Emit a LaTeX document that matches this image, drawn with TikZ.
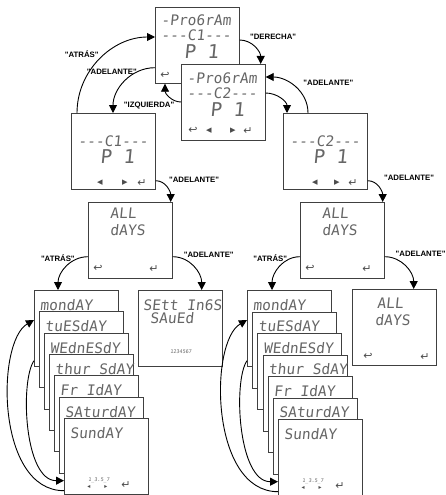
\documentclass[tikz,border=0pt]{standalone}
\usepackage{fontspec}
\usepackage{tikz}
\usetikzlibrary{arrows.meta}

\newfontfamily\lcdfont[FakeSlant=0.1]{DejaVu Sans Mono}
\newfontfamily\symfont{DejaVu Sans}
\newfontfamily\lblfont{Liberation Sans}
\newcommand{\kback}{{\symfont ↩}}
\newcommand{\kenter}{{\symfont ↵}}
\newcommand{\kleft}{{\symfont ◂}}
\newcommand{\kright}{{\symfont ▸}}

\tikzset{
  screen/.style={draw=black!75,line width=0.7pt,fill=white,minimum width=84pt,minimum height=76pt,inner sep=0pt,anchor=north west},
  lcd/.style={font=\lcdfont\fontsize{14.5}{15}\selectfont,text=black!60,inner sep=0pt,anchor=west},
  big/.style={lcd,font=\lcdfont\fontsize{19}{19}\selectfont},
  tiny/.style={lcd,font=\lcdfont\fontsize{5}{5}\selectfont,anchor=center},
  key/.style={inner sep=0pt,text=black!70,font=\fontsize{11}{11}\selectfont},
  lbl/.style={font=\lblfont\bfseries\fontsize{7.8}{8}\selectfont,inner sep=1pt},
  flow/.style={-{Triangle[length=8pt,width=8pt]},line width=0.9pt},
}

\begin{document}
\begin{tikzpicture}[x=1pt,y=-1pt]
  \useasboundingbox (0,0) rectangle (445,495);

  % program screens
  \node[screen] (p1) at (155,7) {};
  \node[lcd] (p1a) at ([xshift=6pt,yshift=-13pt]p1.north west) {-Pro6rAm};
  \node[lcd] (p1b) at ([xshift=6pt,yshift=-28pt]p1.north west) {---C1---};
  \node[big] (p1c) at ([xshift=29pt,yshift=-45pt]p1.north west) {P 1};
  \node[key] (p1d) at ([xshift=10pt,yshift=8pt]p1.south west) {\kback};

  \node[screen] (p2) at (181,64) {};
  \node[lcd] (p2a) at ([xshift=6pt,yshift=-14pt]p2.north west) {-Pro6rAm};
  \node[lcd] (p2b) at ([xshift=6pt,yshift=-29pt]p2.north west) {---C2---};
  \node[big] (p2c) at ([xshift=29pt,yshift=-46pt]p2.north west) {P 1};
  \node[key] (p2d) at ([xshift=12pt,yshift=10pt]p2.south west) {\kback};
  \node[key] (p2e) at ([xshift=28pt,yshift=10pt]p2.south west) {\kleft};
  \node[key] (p2f) at ([xshift=52pt,yshift=10pt]p2.south west) {\kright};
  \node[key] (p2g) at ([xshift=67pt,yshift=10pt]p2.south west) {\kenter};

  % channel screens
  \node[screen] (c1) at (71,113) {};
  \node[lcd] (c1a) at ([xshift=7pt,yshift=-28pt]c1.north west) {---C1---};
  \node[big] (c1b) at ([xshift=29pt,yshift=-44pt]c1.north west) {P 1};
  \node[key] (c1c) at ([xshift=29pt,yshift=7pt]c1.south west) {\kleft};
  \node[key] (c1d) at ([xshift=54pt,yshift=7pt]c1.south west) {\kright};
  \node[key] (c1e) at ([xshift=71pt,yshift=7pt]c1.south west) {\kenter};

  \node[screen] (c2) at (283,113) {};
  \node[lcd] (c2a) at ([xshift=7pt,yshift=-28pt]c2.north west) {---C2---};
  \node[big] (c2b) at ([xshift=30pt,yshift=-44pt]c2.north west) {P 1};
  \node[key] (c2c) at ([xshift=32pt,yshift=7pt]c2.south west) {\kleft};
  \node[key] (c2d) at ([xshift=54pt,yshift=7pt]c2.south west) {\kright};
  \node[key] (c2e) at ([xshift=70pt,yshift=7pt]c2.south west) {\kenter};

  % all days
  \node[screen] (ad1) at (88,202) {};
  \node[lcd] (ad1a) at ([xshift=22pt,yshift=-11pt]ad1.north west) {ALL};
  \node[lcd] (ad1b) at ([xshift=22pt,yshift=-28pt]ad1.north west) {dAYS};
  \node[key] (ad1c) at ([xshift=10pt,yshift=10pt]ad1.south west) {\kback};
  \node[key] (ad1d) at ([xshift=66pt,yshift=10pt]ad1.south west) {\kenter};

  \node[screen] (ad2) at (300,202) {};
  \node[lcd] (ad2a) at ([xshift=22pt,yshift=-11pt]ad2.north west) {ALL};
  \node[lcd] (ad2b) at ([xshift=22pt,yshift=-28pt]ad2.north west) {dAYS};
  \node[key] (ad2c) at ([xshift=10pt,yshift=10pt]ad2.south west) {\kback};
  \node[key] (ad2d) at ([xshift=67pt,yshift=10pt]ad2.south west) {\kenter};

  \node[screen] (ss) at (138,290) {};
  \node[lcd] (ssa) at ([xshift=5pt,yshift=-15pt]ss.north west) {SEtt In6S};
  \node[lcd] (ssb) at ([xshift=12pt,yshift=-28pt]ss.north west) {SAuEd};
  \node[tiny] (ssc) at ([xshift=43pt,yshift=-62pt]ss.north west) {1234567};

  \node[screen] (ad3) at (352,289) {};
  \node[lcd] (ad3a) at ([xshift=25pt,yshift=-14pt]ad3.north west) {ALL};
  \node[lcd] (ad3b) at ([xshift=23pt,yshift=-31pt]ad3.north west) {dAYS};
  \node[key] (ad3c) at ([xshift=16pt,yshift=9pt]ad3.south west) {\kback};
  \node[key] (ad3d) at ([xshift=73pt,yshift=9pt]ad3.south west) {\kenter};

  % day stacks
  \foreach \d [count=\i from 0] in {mondAY,tuESdAY,WEdnESdY,thur SdAY,Fr IdAY,SAturdAY,SundAY}{
    \node[screen] (dl\i) at (34+5*\i,290+21.33*\i) {};
    \node[lcd] (dlt\i) at ([xshift=6pt,yshift=-15pt]dl\i.north west) {\d};
    \node[screen] (dr\i) at (247+5.17*\i,290+21.5*\i) {};
    \node[lcd] (drt\i) at ([xshift=6pt,yshift=-15pt]dr\i.north west) {\d};
  }
  \node[tiny] (dln) at ([xshift=35pt,yshift=14pt]dl6.south west) {1\_3.5\_7};
  \node[key,font=\fontsize{6}{6}\selectfont] (dll) at ([xshift=25pt,yshift=8pt]dl6.south west) {\kleft};
  \node[key,font=\fontsize{6}{6}\selectfont] (dlr) at ([xshift=42pt,yshift=8pt]dl6.south west) {\kright};
  \node[key] (dle) at ([xshift=62pt,yshift=10pt]dl6.south west) {\kenter};
  \node[tiny] (drn) at ([xshift=35pt,yshift=14pt]dr6.south west) {1\_3.5\_7};
  \node[key,font=\fontsize{6}{6}\selectfont] (drl) at ([xshift=25pt,yshift=8pt]dr6.south west) {\kleft};
  \node[key,font=\fontsize{6}{6}\selectfont] (drr) at ([xshift=42pt,yshift=8pt]dr6.south west) {\kright};
  \node[key] (dre) at ([xshift=62pt,yshift=10pt]dr6.south west) {\kenter};

  % arrows
  \draw[flow] ([xshift=6pt]c1.north west) to[out=90,in=180]
    node[lbl,pos=.5,anchor=south east] (l1) {"ATRÁS"} ([yshift=-30pt]p1.north west);
  \draw[flow] ([yshift=16pt]p1.south west) to[out=180,in=90]
    node[lbl,pos=.25,anchor=east] (l2) {"ADELANTE"} ([xshift=42pt]c1.north west);
  \draw[flow] ([yshift=-38pt]p2.north west) to[out=180,in=-90]
    node[lbl,pos=.2,anchor=north east] (l3) {"IZQUIERDA"} ([xshift=10pt]p1.south west);
  \draw[flow] ([yshift=-33pt]p1.north east) to[out=0,in=90]
    node[lbl,pos=.2,anchor=south west,xshift=2pt] (l4) {"DERECHA"} ([xshift=-5pt]p2.north east);
  \draw[flow] ([xshift=25pt]c2.north west) to[out=90,in=0]
    node[lbl,pos=.5,anchor=south west,xshift=7pt] (l5) {"ADELANTE"} ([yshift=-13pt]p2.north east);
  \draw[flow] ([yshift=-29pt]p2.north east) to[out=0,in=90] ([xshift=4pt]c2.north west);
  \draw[flow] ([yshift=9pt]c1.south east) to[out=0,in=90]
    node[lbl,pos=0,anchor=west,xshift=12pt,yshift=1pt] (l6) {"ADELANTE"} ([xshift=-2pt]ad1.north east);
  \draw[flow] ([yshift=9pt]c2.south east) to[out=0,in=90]
    node[lbl,pos=0,anchor=west,xshift=15pt,yshift=3pt] (l7) {"ADELANTE"} ([xshift=-2pt]ad2.north east);
  \draw[flow] ([yshift=22pt]ad1.south west) to[out=180,in=90]
    node[lbl,pos=.2,anchor=east,xshift=-2pt] (l8) {"ATRÁS"} ([xshift=24pt]dl0.north west);
  \draw[flow] ([yshift=22pt]ad1.south east) to[out=0,in=90]
    node[lbl,pos=.2,anchor=south west] (l9) {"ADELANTE"} ([xshift=-21pt]ss.north east);
  \draw[flow] ([yshift=22pt]ad2.south west) to[out=180,in=90]
    node[lbl,pos=.2,anchor=east,xshift=-2pt] (l10) {"ATRÁS"} ([xshift=25pt]dr0.north west);
  \draw[flow] ([yshift=22pt]ad2.south east) to[out=0,in=90]
    node[lbl,pos=.2,anchor=south west] (l11) {"ADELANTE"} ([xshift=-23pt]ad3.north east);

  % loops over the days
  \draw[flow] ([yshift=4pt]dl6.south west) .. controls +(-68,0) and +(-38,22) .. ([yshift=-30pt]dl0.north west);
  \draw[flow] ([yshift=6pt]dl0.south west) .. controls +(-14,20) and +(-40,0) .. ([yshift=14pt]dl6.south west);
  \draw[flow] ([yshift=4pt]dr6.south west) .. controls +(-68,0) and +(-38,22) .. ([yshift=-30pt]dr0.north west);
  \draw[flow] ([yshift=6pt]dr0.south west) .. controls +(-14,20) and +(-40,0) .. ([yshift=14pt]dr6.south west);
\end{tikzpicture}
\end{document}
